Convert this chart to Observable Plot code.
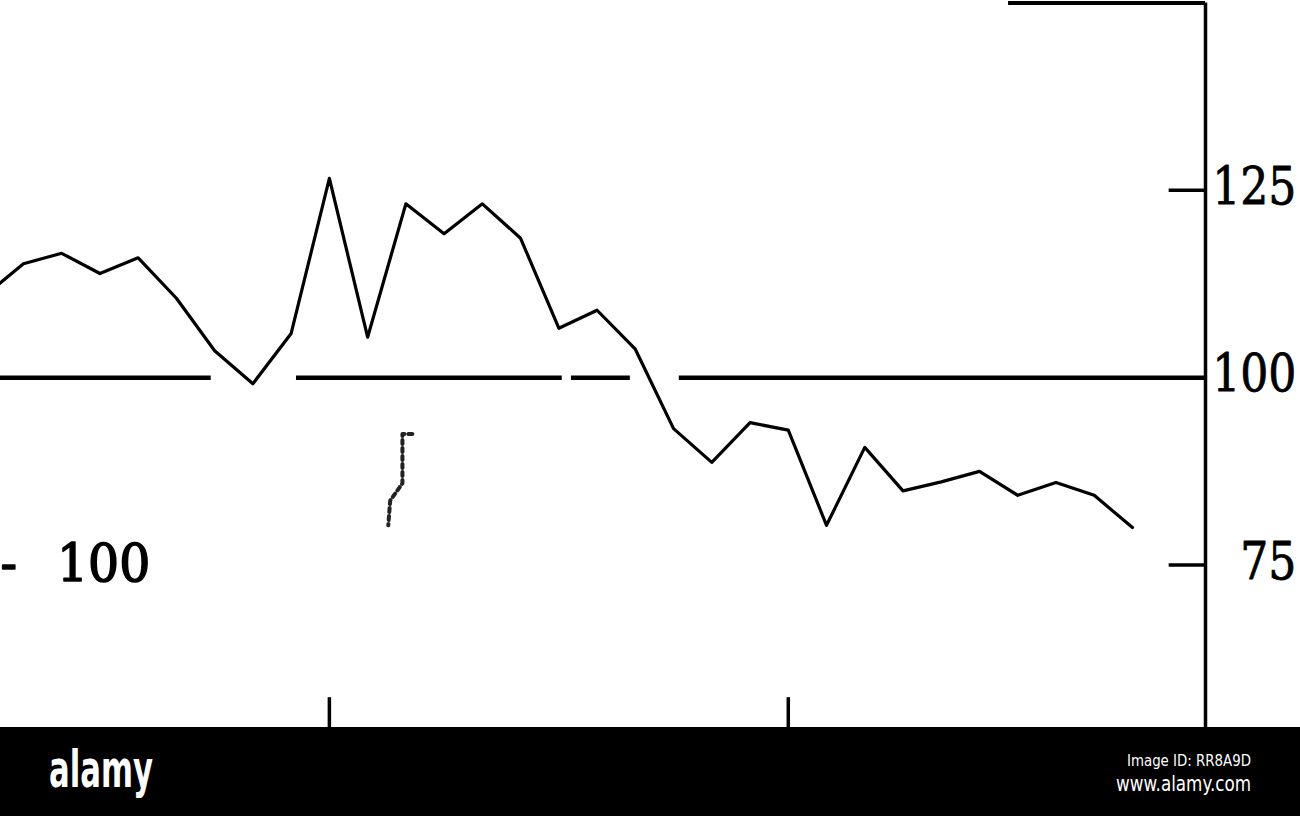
<!DOCTYPE html>
<html>
<head>
<meta charset="utf-8">
<script src="https://cdn.jsdelivr.net/npm/d3@7"></script>
<script src="https://cdn.jsdelivr.net/npm/@observablehq/plot@0.6"></script>
<style>
  html, body { margin: 0; padding: 0; background: #fff; }
  body { width: 1300px; height: 816px; overflow: hidden; }
  #chart svg { display: block; background: #fff; }
  #band { display: block; }
</style>
</head>
<body>
<div id="chart"></div>
<svg id="band" width="1300" height="89" xmlns="http://www.w3.org/2000/svg">
  <rect x="0" y="0" width="1300" height="89" fill="#000"></rect>
  <text x="49" y="60" fill="#fff" font-family="DejaVu Sans" font-weight="bold" font-size="52" textLength="104" lengthAdjust="spacingAndGlyphs">alamy</text>
  <text x="1251" y="39" fill="#fff" font-family="DejaVu Sans" font-size="16" text-anchor="end" textLength="124" lengthAdjust="spacingAndGlyphs">Image ID: RR8A9D</text>
  <text x="1251" y="64" fill="#fff" font-family="DejaVu Sans" font-size="21" text-anchor="end" textLength="135" lengthAdjust="spacingAndGlyphs">www.alamy.com</text>
</svg>
<script>
// Month index (0 = first year mark) and index values (base = 100)
const months = [-9, -8, -7, -6, -5, -4, -3, -2, -1, 0, 1, 2, 3, 4, 5, 6, 7, 8, 9, 10, 11, 12, 13, 14, 15, 16, 17, 18, 19, 20, 21];
const indexValues = [111.0, 115.2, 116.6, 113.9, 116.0, 110.6, 103.6, 99.2, 105.9, 126.6, 105.4, 123.2, 119.2, 123.2, 118.6, 106.6, 109.0, 103.8, 93.2, 88.7, 94.0, 93.0, 80.3, 90.7, 84.9, 86.1, 87.5, 84.3, 86.0, 84.3, 80.0];

// Axis ticks and labels
const yTicks = [75, 100, 125];
const yTickLabels = ["75", "100", "125"];
const yearTicks = [0, 12];
const baseLabel = "-\u2002 100";
const baseValue = 100;

// Visible window of the (cropped) original drawing
const xMin = -8.6, xMax = 22.91;
const yMin = 53.32, yMax = 150;

// Broken base line (gaps as in the drawing), in month units
const baseSegmentStarts = [-8.6, -0.86, 6.33, 9.15];
const baseSegmentEnds = [-3.09, 6.09, 7.87, 22.91];
// Top frame line start
const topFrameStart = 17.76;
// Dotted pencil mark below the peak
const markMonths = [2.17, 1.91, 1.91, 1.59, 1.54];
const markValues = [92.5, 92.5, 85.9, 83.6, 80.3];

const series = months.map((m, i) => ({month: m, value: indexValues[i]}));
const baseSegments = baseSegmentStarts.map((s, i) => ({x1: s, x2: baseSegmentEnds[i]}));
const mark = markMonths.map((m, i) => ({month: m, value: markValues[i]}));
const tickRows = yTicks.map((v, i) => ({value: v, label: yTickLabels[i]}));

const labelFont = {fontFamily: "DejaVu Serif", fontSize: 52, fill: "#000", stroke: "#000", strokeWidth: 0.8};

const plot = Plot.plot({
  width: 1300,
  height: 727,
  marginLeft: 0,
  marginRight: 95,
  marginTop: 2.5,
  marginBottom: 0,
  style: {background: "#fff", overflow: "hidden"},
  x: {domain: [xMin, xMax], axis: null},
  y: {domain: [yMin, yMax], axis: null},
  marks: [
    Plot.ruleY(baseSegments, {y: baseValue, x1: "x1", x2: "x2", stroke: "#000", strokeWidth: 4.5}),
    Plot.line(mark, {x: "month", y: "value", stroke: "#222", strokeWidth: 4, strokeDasharray: "4,4"}),
    Plot.line(series, {x: "month", y: "value", stroke: "#000", strokeWidth: 3.2, clip: true}),
    Plot.ruleX([xMax], {y1: yMin, y2: yMax, stroke: "#000", strokeWidth: 3.5}),
    Plot.ruleY([yMax], {x1: topFrameStart, x2: xMax, stroke: "#000", strokeWidth: 4}),
    Plot.ruleY(tickRows.filter(d => d.value !== baseValue), {y: "value", x1: xMax - 0.95, x2: xMax, stroke: "#000", strokeWidth: 3.5}),
    Plot.ruleX(yearTicks, {x: d => d, y1: yMin, y2: 57.3, stroke: "#000", strokeWidth: 3.5}),
    Plot.text(tickRows, {x: xMax, y: "value", text: "label", textAnchor: "end", dx: 91, dy: -3, ...labelFont}),
    Plot.text([baseLabel], {x: xMin, y: 75, text: d => d, textAnchor: "start", dy: -1, ...labelFont, strokeWidth: 1.6})
  ]
});

// Typewriter digits in the scan are narrow: squeeze horizontally
plot.querySelectorAll("text").forEach(t => {
  const sx = t.textContent.startsWith("-") ? 0.94 : 0.85;
  const tr = t.getAttribute("transform");
  if (tr) {
    t.setAttribute("transform", tr + ` scale(${sx},1)`);
  } else {
    const x = +(t.getAttribute("x") || 0), y = +(t.getAttribute("y") || 0);
    t.removeAttribute("x"); t.removeAttribute("y");
    t.setAttribute("transform", `translate(${x},${y}) scale(${sx},1)`);
  }
});

document.getElementById("chart").appendChild(plot);
</script>
</body>
</html>
